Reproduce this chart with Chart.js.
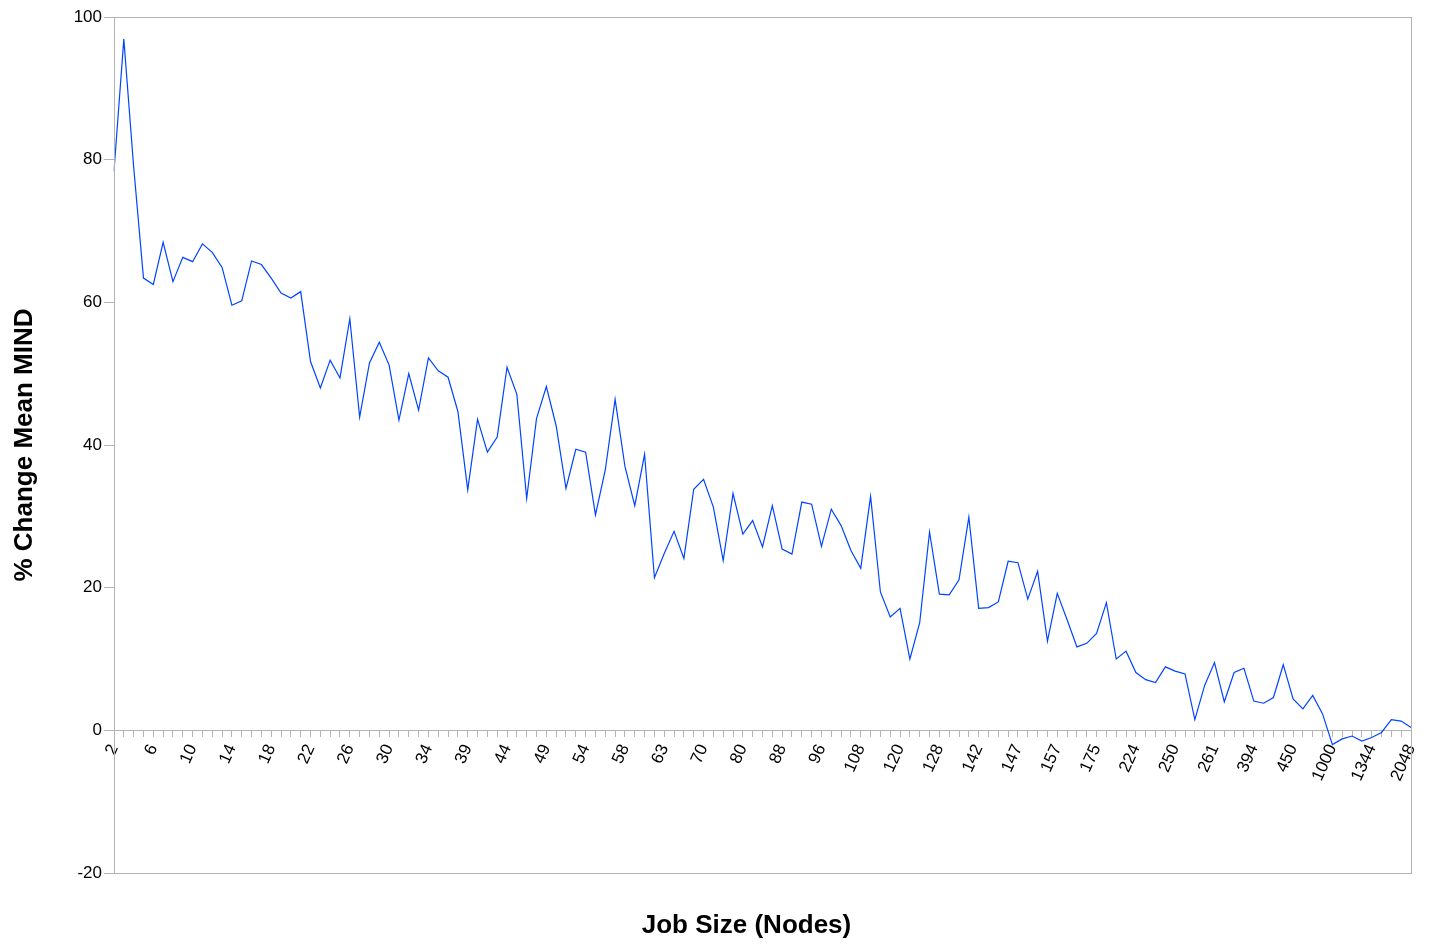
<!DOCTYPE html>
<html>
<head>
<meta charset="utf-8">
<script src="https://cdn.jsdelivr.net/npm/chart.js@4/dist/chart.umd.min.js"></script>
<style>
  html, body { margin: 0; padding: 0; background: #ffffff; }
  #wrap { width: 1431px; height: 945px; }
</style>
</head>
<body>
<div id="wrap"><canvas id="c" width="1431" height="945"></canvas></div>
<script>
// Job sizes (nodes), one category per job size
const jobSizes = [
  2, 3, 4, 5, 6, 7, 8, 9, 10, 11, 12, 13, 14, 15, 16, 17, 18, 19, 20, 21,
  22, 23, 24, 25, 26, 27, 28, 29, 30, 31, 32, 33, 34, 35, 36, 38, 39, 40, 41, 42,
  44, 45, 46, 48, 49, 50, 51, 52, 54, 55, 56, 57, 58, 60, 61, 62, 63, 64, 66, 68,
  70, 72, 75, 76, 80, 82, 84, 85, 88, 90, 92, 93, 96, 100, 102, 104, 108, 110, 112, 116,
  120, 122, 124, 126, 128, 130, 132, 136, 142, 143, 144, 145, 147, 150, 152, 155, 157, 160, 164, 170,
  175, 180, 192, 200, 224, 230, 240, 245, 250, 252, 256, 260, 261, 264, 300, 384, 394, 400, 420, 448,
  450, 512, 600, 800, 1000, 1024, 1100, 1200, 1344, 1400, 1536, 1792, 2048
];

// Percent change of mean MIND for each job size
const pctChangeMeanMind = [
  78.4, 96.9, 79.0, 63.4, 62.5, 68.4, 62.9, 66.3, 65.7, 68.2,
  67.0, 64.9, 59.6, 60.2, 65.8, 65.3, 63.4, 61.3, 60.6, 61.5,
  51.7, 48.0, 51.9, 49.4, 57.7, 43.9, 51.5, 54.4, 51.2, 43.5,
  50.0, 44.9, 52.2, 50.4, 49.5, 44.7, 33.7, 43.6, 39.0, 41.1,
  50.9, 47.1, 32.5, 43.7, 48.2, 42.7, 33.9, 39.4, 39.0, 30.2,
  36.5, 46.4, 37.0, 31.5, 38.7, 21.4, 24.8, 27.9, 24.1, 33.8,
  35.2, 31.3, 23.8, 33.2, 27.5, 29.4, 25.7, 31.5, 25.4, 24.7,
  32.0, 31.7, 25.8, 31.0, 28.7, 25.2, 22.7, 32.8, 19.4, 15.9,
  17.1, 10.0, 15.1, 27.8, 19.1, 19.0, 21.1, 29.9, 17.1, 17.2,
  18.0, 23.7, 23.5, 18.4, 22.3, 12.5, 19.2, 15.5, 11.7, 12.2,
  13.6, 17.9, 10.0, 11.1, 8.1, 7.1, 6.7, 8.9, 8.3, 7.9,
  1.5, 6.3, 9.5, 4.0, 8.1, 8.7, 4.1, 3.8, 4.6, 9.2,
  4.4, 3.0, 4.9, 2.3, -2.0, -1.2, -0.8, -1.5, -1.0, -0.3,
  1.5, 1.3, 0.4
];

// Value axis range and step
const yMin = -20;
const yMax = 100;
const yStep = 20;

// Every fourth job size gets a printed label
const labelEvery = 4;

const axisGray = '#b3b3b3';
const lineBlue = '#0044ff';
const baseFont = 'Liberation Sans, Arial, sans-serif';

// Frame around the plot area and the horizontal axis title
const framePlugin = {
  id: 'frameAndTitle',
  afterDraw(chart) {
    const { ctx, chartArea: a } = chart;
    ctx.save();
    ctx.strokeStyle = axisGray;
    ctx.lineWidth = 1;
    ctx.strokeRect(Math.round(a.left) + 0.5, Math.round(a.top) + 0.5,
                   Math.round(a.right - a.left), Math.round(a.bottom - a.top));
    ctx.fillStyle = '#000000';
    ctx.font = 'bold 26px ' + baseFont;
    ctx.textAlign = 'center';
    ctx.textBaseline = 'middle';
    ctx.fillText('Job Size (Nodes)', (a.left + a.right) / 2 - 16, a.bottom + 53);
    ctx.restore();
  }
};

new Chart(document.getElementById('c'), {
  type: 'line',
  data: {
    labels: jobSizes.map(String),
    datasets: [{
      data: pctChangeMeanMind,
      borderColor: lineBlue,
      borderWidth: 1.2,
      pointRadius: 0,
      tension: 0,
      fill: false
    }]
  },
  options: {
    responsive: false,
    animation: false,
    layout: { padding: { top: 17, right: 20, bottom: 72, left: 0 } },
    plugins: {
      legend: { display: false },
      tooltip: { enabled: false }
    },
    scales: {
      x: {
        type: 'category',
        position: { y: 0 },
        offset: false,
        // rotated labels may hang past the plot edges
        afterFit(scale) { scale.paddingLeft = 0; scale.paddingRight = 0; },
        grid: {
          drawOnChartArea: false,
          drawTicks: true,
          tickLength: 6,
          color: axisGray
        },
        border: { display: true, color: axisGray },
        ticks: {
          autoSkip: false,
          minRotation: 66,
          maxRotation: 66,
          padding: 5,
          color: '#000000',
          font: { family: baseFont, size: 17 },
          callback: function (value, index) {
            return index % labelEvery === 0 ? this.getLabelForValue(value) : '';
          }
        }
      },
      y: {
        min: yMin,
        max: yMax,
        afterFit(scale) { scale.width = 114; },
        grid: {
          drawOnChartArea: false,
          drawTicks: true,
          tickLength: 10,
          color: axisGray
        },
        border: { display: true, color: axisGray },
        ticks: {
          stepSize: yStep,
          padding: 2,
          color: '#000000',
          font: { family: baseFont, size: 17 }
        },
        title: {
          display: true,
          text: '% Change Mean MIND',
          color: '#000000',
          font: { family: baseFont, size: 26, weight: 'bold' },
          padding: { top: 9, bottom: 0 }
        }
      }
    }
  },
  plugins: [framePlugin]
});
</script>
</body>
</html>
